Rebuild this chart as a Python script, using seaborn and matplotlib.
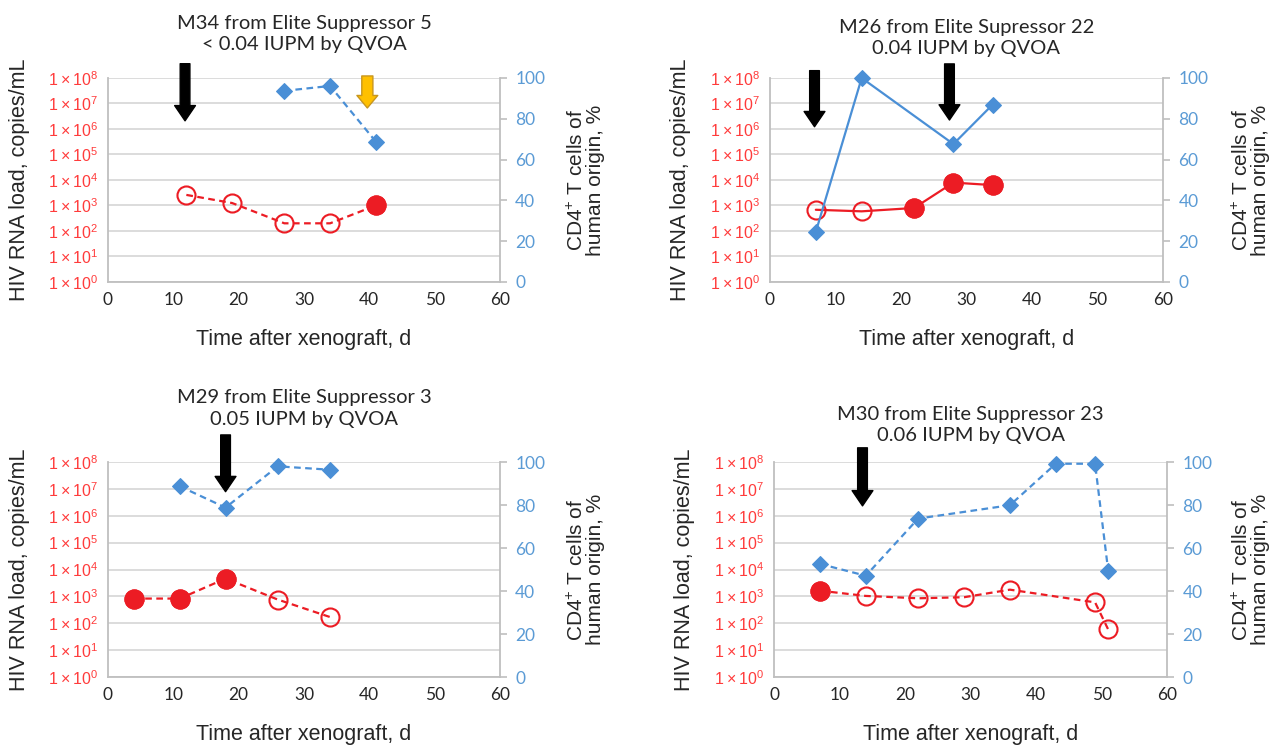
import matplotlib
matplotlib.use('Agg')
import matplotlib.pyplot as plt
import seaborn as sns

# ---- data ----
titles = [
    'M34 from Elite Suppressor 5\n< 0.04 IUPM by QVOA',
    'M26 from Elite Supressor 22\n0.04 IUPM by QVOA',
    'M29 from Elite Suppressor 3\n0.05 IUPM by QVOA',
    'M30 from Elite Suppressor 23\n0.06 IUPM by QVOA',
]

# HIV RNA load (copies/mL), red circles; filled = solid marker
m34_rna_days = [12, 19, 27, 34, 41]
m34_rna = [2600, 1250, 200, 200, 1000]
m34_rna_filled = [False, False, False, False, True]
m34_cd4_days = [27, 34, 41]
m34_cd4 = [93.7, 96.1, 68.8]

m26_rna_days = [7, 14, 22, 28, 34]
m26_rna = [680, 590, 800, 7900, 6300]
m26_rna_filled = [False, False, True, True, True]
m26_cd4_days = [7, 14, 28, 34]
m26_cd4 = [24.6, 100, 67.6, 87]

m29_rna_days = [4, 11, 18, 26, 34]
m29_rna = [830, 830, 4600, 760, 170]
m29_rna_filled = [True, True, True, False, False]
m29_cd4_days = [11, 18, 26, 34]
m29_cd4 = [88.7, 78.8, 98, 96.4]

m30_rna_days = [7, 14, 22, 29, 36, 49, 51]
m30_rna = [1630, 1040, 850, 930, 1780, 600, 59]
m30_rna_filled = [True, False, False, False, False, False, False]
m30_cd4_days = [7, 14, 22, 36, 43, 49, 51]
m30_cd4 = [52.6, 47.1, 73.7, 79.9, 99.2, 99.2, 49.5]

# treatment arrows: (day, color)
m34_arrows = [(11.8, 'black'), (39.7, 'orange')]
m26_arrows = [(6.8, 'black'), (27.4, 'black')]
m29_arrows = [(18, 'black')]
m30_arrows = [(13.5, 'black')]

x_ticks = [0, 10, 20, 30, 40, 50, 60]
rna_ticks = [10 ** k for k in range(9)]
rna_labels = [f'1\u2009\u00d7\u200910$^{{{k}}}$' for k in range(9)]
cd4_ticks = [0, 20, 40, 60, 80, 100]

# ---- style ----
RED = '#ec1c24'
RED_TXT = '#ff3b3b'
BLUE = '#4a8fd6'
BLUE_TXT = '#5b9bd5'
GRAY = '#bfbfbf'

sns.set_style('white')
plt.rcParams['font.family'] = ['Liberation Sans', 'DejaVu Sans']
plt.rcParams['mathtext.fontset'] = 'custom'
plt.rcParams['mathtext.rm'] = 'Liberation Sans'
plt.rcParams['mathtext.it'] = 'Liberation Sans'

fig = plt.figure(figsize=(12.82, 7.47), dpi=100)

panels = [
    dict(rect=[0.0842, 0.6225, 0.3058, 0.2731], title=titles[0], pad=20, rl=1.17,
         rd=m34_rna_days, r=m34_rna, rf=m34_rna_filled, cd=m34_cd4_days, c=m34_cd4,
         ls=(0, (3, 2)), arrows=m34_arrows, ay=[(1.07, 0.79), (1.01, 0.853)]),
    dict(rect=[0.6006, 0.6225, 0.3066, 0.2731], title=titles[1], pad=17, rl=1.175,
         rd=m26_rna_days, r=m26_rna, rf=m26_rna_filled, cd=m26_cd4_days, c=m26_cd4,
         ls='-', arrows=m26_arrows, ay=[(1.036, 0.761), (1.069, 0.794)]),
    dict(rect=[0.0842, 0.0937, 0.3058, 0.2878], title=titles[2], pad=27, rl=1.17,
         rd=m29_rna_days, r=m29_rna, rf=m29_rna_filled, cd=m29_cd4_days, c=m29_cd4,
         ls=(0, (3, 2)), arrows=m29_arrows, ay=[(1.126, 0.862)]),
    dict(rect=[0.6038, 0.0937, 0.3066, 0.2878], title=titles[3], pad=15, rl=1.165,
         rd=m30_rna_days, r=m30_rna, rf=m30_rna_filled, cd=m30_cd4_days, c=m30_cd4,
         ls=(0, (3, 2)), arrows=m30_arrows, ay=[(1.066, 0.796)]),
]

for p in panels:
    ax = fig.add_axes(p['rect'])
    ax2 = ax.twinx()

    # HIV RNA line with open circles, then filled circles on top
    sns.lineplot(x=p['rd'], y=p['r'], ax=ax, color=RED, lw=1.6, linestyle=p['ls'],
                 marker='o', markersize=13, markerfacecolor='none',
                 markeredgecolor=RED, markeredgewidth=1.5, zorder=3, clip_on=False)
    fd = [d for d, f in zip(p['rd'], p['rf']) if f]
    fv = [v for v, f in zip(p['r'], p['rf']) if f]
    sns.scatterplot(x=fd, y=fv, ax=ax, color=RED, edgecolor=RED, s=185,
                    linewidth=1, zorder=4, clip_on=False)

    # CD4 % on right axis
    sns.lineplot(x=p['cd'], y=p['c'], ax=ax2, color=BLUE, lw=1.6, linestyle=p['ls'],
                 marker='D', markersize=8.5, markeredgecolor=BLUE, zorder=3,
                 clip_on=False)

    ax.set_yscale('log')
    ax.set_ylim(1, 1e8)
    ax.set_xlim(0, 60)
    ax.set_yticks(rna_ticks, rna_labels, color=RED_TXT, fontsize=11.5)
    ax.minorticks_off()
    ax.set_xticks(x_ticks, [str(t) for t in x_ticks], fontfamily='Lato', fontsize=12.5)
    ax.tick_params(axis='both', length=0, pad=7)
    ax.yaxis.grid(True, color='#d9d9d9', lw=1.3)
    ax.xaxis.grid(False)
    ax.set_axisbelow(True)
    for side in ['top', 'right']:
        ax.spines[side].set_visible(False)
    for side in ['left', 'bottom']:
        ax.spines[side].set_color(GRAY)
        ax.spines[side].set_linewidth(1.3)

    ax2.set_ylim(0, 100)
    ax2.set_yticks(cd4_ticks, [str(t) for t in cd4_ticks], color=BLUE_TXT,
                   fontfamily='Lato', fontsize=12.5)
    ax2.tick_params(axis='y', length=5, width=1.2, color=GRAY, pad=6)
    for side in ['top', 'left', 'bottom']:
        ax2.spines[side].set_visible(False)
    ax2.spines['right'].set_color(GRAY)
    ax2.spines['right'].set_linewidth(1.3)
    ax2.grid(False)

    ax.set_xlabel('Time after xenograft, d', fontsize=15.5, labelpad=15)
    ax.set_ylabel('HIV RNA load, copies/mL', fontsize=15.5)
    ax.yaxis.set_label_coords(-0.2, 0.5)
    ax2.set_ylabel('CD4$^{+}$ T cells of\nhuman origin, %', fontsize=15,
                   linespacing=0.95)
    ax2.yaxis.set_label_coords(p['rl'], 0.5)
    ax.set_title(p['title'], fontfamily='Lato', fontsize=14.5, pad=p['pad'],
                 linespacing=1.3)

    for (day, col), (ytop, ytip) in zip(p['arrows'], p['ay']):
        if col == 'black':
            props = dict(facecolor='black', edgecolor='black', width=7,
                         headwidth=15, headlength=11, shrink=0)
        else:
            props = dict(facecolor='#ffc000', edgecolor='#c8961e', lw=1, width=8,
                         headwidth=15, headlength=9, shrink=0)
        ax.annotate('', xy=(day, ytip), xytext=(day, ytop),
                    xycoords=('data', 'axes fraction'),
                    textcoords=('data', 'axes fraction'),
                    arrowprops=props, annotation_clip=False)

fig.savefig('out.png', dpi=100)
